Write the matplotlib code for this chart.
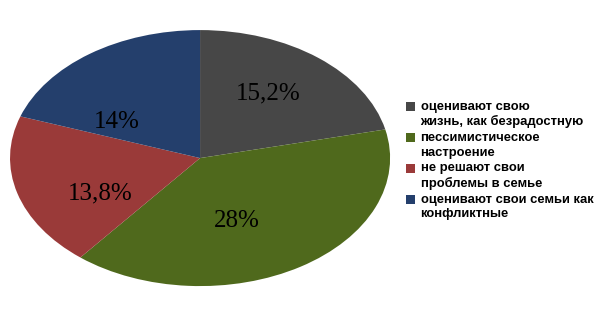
import matplotlib
matplotlib.use('Agg')
from matplotlib import pyplot as plt
from matplotlib.patches import Rectangle, Wedge
from matplotlib.legend_handler import HandlerPatch

# данные
values = [15.2, 28, 13.8, 14]
value_labels = ['15,2%', '28%', '13,8%', '14%']
categories = ['оценивают свою\nжизнь, как безрадостную',
              'пессимистическое\nнастроение',
              'не решают свои\nпроблемы в семье',
              'оценивают свои семьи как\nконфликтные']
colors = ['#474747', '#4f691c', '#9a3a39', '#243f6c']
# сдвиг подписей (в долях радиуса)
label_shift = [(0.0, 0.055), (-0.115, 0.0), (0.03, -0.115), (-0.10, -0.19)]

fig = plt.figure(figsize=(6.15, 3.2), dpi=100)
ax = fig.add_axes([0.0163, 0.106, 0.618, 0.80])

wedges, texts, autotexts = ax.pie(values, colors=colors, startangle=90, counterclock=False,
                                  autopct='%1.1f', pctdistance=0.58, radius=1.0,
                                  wedgeprops=dict(linewidth=0))
for t, lab, (dx, dy) in zip(autotexts, value_labels, label_shift):
    x, y = t.get_position()
    t.set_position((x + dx, y + dy))
    t.set_text(lab)
    t.set_fontfamily('Liberation Serif')
    t.set_fontsize(18)
    t.set_color('black')

ax.set_aspect('auto')
ax.set_xlim(-1, 1)
ax.set_ylim(-1, 1)


# квадратик легенды на уровне первой строки
def top_patch(legend, orig_handle, xdescent, ydescent, width, height, fontsize):
    return Rectangle((-xdescent, -ydescent + 0.6 * fontsize), width, height)


leg = fig.legend(wedges, categories, loc='upper left', bbox_to_anchor=(0.660, 0.685),
                 frameon=False, borderpad=0, borderaxespad=0,
                 prop={'family': 'Liberation Sans', 'weight': 'bold', 'size': 9.4},
                 handlelength=0.7, handleheight=0.7, handletextpad=0.42, labelspacing=0.3,
                 handler_map={Wedge: HandlerPatch(patch_func=top_patch)})
for t in leg.get_texts():
    t.set_linespacing(1.25)

plt.savefig('out.png', dpi=100)
